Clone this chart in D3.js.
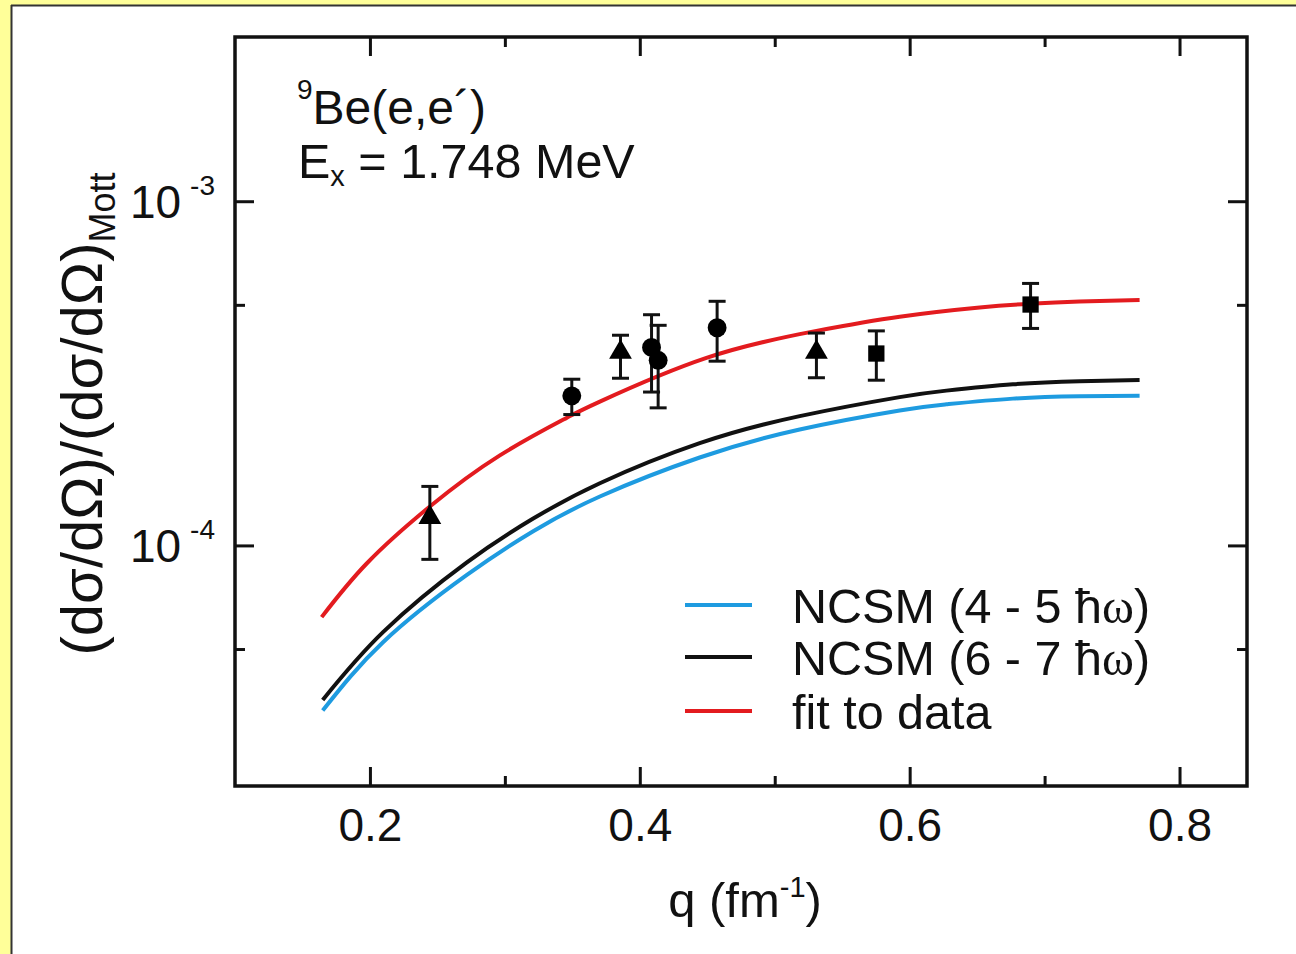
<!DOCTYPE html>
<html>
<head>
<meta charset="utf-8">
<script src="https://cdn.jsdelivr.net/npm/d3@7"></script>
<style>
  html, body { margin: 0; padding: 0; background: #ffffff; overflow: hidden; }
  svg { display: block; }
  text { font-family: "Liberation Sans", Arial, sans-serif; fill: #111; }
</style>
</head>
<body>
<svg id="chart" width="1296" height="954" viewBox="0 0 1296 954"></svg>
<script>
// ---- theory curves: [q (fm^-1), form factor ratio] ----
const ncsm45 = [[0.1650,3.314e-5],[0.2099,5.241e-5],[0.2716,8.193e-5],[0.3210,1.0997e-4],[0.3704,1.3874e-4],[0.4444,1.8006e-4],[0.5185,2.1723e-4],[0.5926,2.4670e-4],[0.6272,2.5698e-4],[0.6765,2.6698e-4],[0.7259,2.7113e-4],[0.7704,2.7222e-4]];
const ncsm67 = [[0.1650,3.558e-5],[0.2099,5.609e-5],[0.2716,8.913e-5],[0.3210,1.1966e-4],[0.3704,1.5160e-4],[0.4444,1.9818e-4],[0.5185,2.3748e-4],[0.5926,2.6968e-4],[0.6272,2.8168e-4],[0.6765,2.9383e-4],[0.7259,2.9979e-4],[0.7704,3.0221e-4]];
const fitCurve = [[0.1642,6.19e-5],[0.1976,8.86e-5],[0.2444,1.297e-4],[0.2963,1.826e-4],[0.3457,2.346e-4],[0.3704,2.617e-4],[0.4494,3.506e-4],[0.5309,4.201e-4],[0.5926,4.618e-4],[0.6519,4.912e-4],[0.6889,5.035e-4],[0.7259,5.110e-4],[0.7704,5.161e-4]];

// ---- measured points (three data sets) ----
const triQ  = [0.2444, 0.3857, 0.5309];
const triV  = [1.206e-4, 3.64e-4, 3.64e-4];
const triLo = [9.11e-5, 3.06e-4, 3.07e-4];
const triHi = [1.484e-4, 4.08e-4, 4.14e-4];

const cirQ  = [0.3496, 0.4087, 0.4136, 0.4573];
const cirV  = [2.72e-4, 3.76e-4, 3.45e-4, 4.29e-4];
const cirLo = [2.40e-4, 2.79e-4, 2.51e-4, 3.43e-4];
const cirHi = [3.04e-4, 4.68e-4, 4.36e-4, 5.12e-4];

const sqQ  = [0.5753, 0.6896];
const sqV  = [3.61e-4, 5.01e-4];
const sqLo = [3.02e-4, 4.27e-4];
const sqHi = [4.20e-4, 5.77e-4];

// ---- ticks ----
const xMajor = [0.2, 0.4, 0.6, 0.8];
const xMinor = [0.3, 0.5, 0.7];
const xTickLabels = ["0.2", "0.4", "0.6", "0.8"];
const yMajor = [1e-4, 1e-3];
const yMinor = [5e-5, 5e-4];
const yTickExp = ["-4", "-3"];

const legendLabels = ["NCSM (4 - 5 ", "NCSM (6 - 7 ", "fit to data"];
const colors = { ncsm45: "#1e9be0", ncsm67: "#111111", fit: "#e31b1f" };

// ---- layout ----
const W = 1296, H = 954;
const plot = { left: 235, right: 1247, top: 37, bottom: 786 };

const svg = d3.select("#chart");

// yellow page margin along top and left, white panel with a dark edge
svg.append("rect").attr("x", 0).attr("y", 0).attr("width", W).attr("height", 5).attr("fill", "#ffff99");
svg.append("rect").attr("x", 0).attr("y", 0).attr("width", 11).attr("height", H).attr("fill", "#ffff99");
svg.append("line").attr("x1", 11).attr("x2", W).attr("y1", 5.5).attr("y2", 5.5).attr("stroke", "#333").attr("stroke-width", 2);
svg.append("line").attr("x1", 11.5).attr("x2", 11.5).attr("y1", 5).attr("y2", H).attr("stroke", "#333").attr("stroke-width", 2);

const x = d3.scaleLinear().domain([0.1, 0.85]).range([plot.left, plot.right]);
const y = d3.scaleLog().domain([2e-5, 3e-3]).range([plot.bottom, plot.top]);

// ---- curves ----
const line = d3.line()
  .x(d => x(d[0]))
  .y(d => y(d[1]))
  .curve(d3.curveNatural);

const curves = svg.append("g").attr("fill", "none").attr("stroke-width", 4);
curves.append("path").datum(ncsm45).attr("d", line).attr("stroke", colors.ncsm45);
curves.append("path").datum(ncsm67).attr("d", line).attr("stroke", colors.ncsm67);
curves.append("path").datum(fitCurve).attr("d", line).attr("stroke", colors.fit);

// ---- data points with error bars ----
function drawSet(qs, vs, lo, hi, symbolType, size) {
  const g = svg.append("g");
  const pts = qs.map((q, i) => ({ q, v: vs[i], lo: lo[i], hi: hi[i] }));
  const cap = 8.5;
  pts.forEach(p => {
    const cx = x(p.q);
    g.append("line").attr("x1", cx).attr("x2", cx).attr("y1", y(p.lo)).attr("y2", y(p.hi))
      .attr("stroke", "#111").attr("stroke-width", 3);
    [p.lo, p.hi].forEach(e => {
      g.append("line").attr("x1", cx - cap).attr("x2", cx + cap).attr("y1", y(e)).attr("y2", y(e))
        .attr("stroke", "#111").attr("stroke-width", 3);
    });
  });
  g.selectAll("path.sym").data(pts).join("path")
    .attr("class", "sym")
    .attr("transform", d => `translate(${x(d.q)},${y(d.v)})`)
    .attr("d", d3.symbol().type(symbolType).size(size))
    .attr("fill", "#000");
}
drawSet(triQ, triV, triLo, triHi, d3.symbolTriangle, 225);
drawSet(cirQ, cirV, cirLo, cirHi, d3.symbolCircle, 280);
drawSet(sqQ, sqV, sqLo, sqHi, d3.symbolSquare, 265);

// ---- axes: inward ticks on all four sides ----
const majorLen = 19, minorLen = 10;
function styleAxis(g) {
  g.select(".domain").remove();
  g.selectAll(".tick line").attr("stroke", "#111").attr("stroke-width", 3);
}
svg.append("g").attr("transform", `translate(0,${plot.bottom})`)
  .call(d3.axisBottom(x).tickValues(xMajor).tickSizeInner(-majorLen).tickSizeOuter(0)
    .tickPadding(22).tickFormat((d, i) => xTickLabels[i]))
  .call(styleAxis)
  .call(g => g.selectAll("text").attr("font-size", 46).attr("fill", "#111")
    .attr("font-family", '"Liberation Sans", Arial, sans-serif'));
svg.append("g").attr("transform", `translate(0,${plot.bottom})`)
  .call(d3.axisBottom(x).tickValues(xMinor).tickSizeInner(-minorLen).tickSizeOuter(0).tickFormat(""))
  .call(styleAxis);
svg.append("g").attr("transform", `translate(0,${plot.top})`)
  .call(d3.axisTop(x).tickValues(xMajor).tickSizeInner(-majorLen).tickSizeOuter(0).tickFormat(""))
  .call(styleAxis);
svg.append("g").attr("transform", `translate(0,${plot.top})`)
  .call(d3.axisTop(x).tickValues(xMinor).tickSizeInner(-minorLen).tickSizeOuter(0).tickFormat(""))
  .call(styleAxis);
svg.append("g").attr("transform", `translate(${plot.left},0)`)
  .call(d3.axisLeft(y).tickValues(yMajor).tickSizeInner(-majorLen).tickSizeOuter(0).tickFormat(""))
  .call(styleAxis);
svg.append("g").attr("transform", `translate(${plot.left},0)`)
  .call(d3.axisLeft(y).tickValues(yMinor).tickSizeInner(-minorLen).tickSizeOuter(0).tickFormat(""))
  .call(styleAxis);
svg.append("g").attr("transform", `translate(${plot.right},0)`)
  .call(d3.axisRight(y).tickValues(yMajor).tickSizeInner(-majorLen).tickSizeOuter(0).tickFormat(""))
  .call(styleAxis);
svg.append("g").attr("transform", `translate(${plot.right},0)`)
  .call(d3.axisRight(y).tickValues(yMinor).tickSizeInner(-minorLen).tickSizeOuter(0).tickFormat(""))
  .call(styleAxis);

// frame
svg.append("rect")
  .attr("x", plot.left).attr("y", plot.top)
  .attr("width", plot.right - plot.left).attr("height", plot.bottom - plot.top)
  .attr("fill", "none").attr("stroke", "#111").attr("stroke-width", 3.5);

// y tick labels: 10^n
yMajor.forEach((v, i) => {
  const t = svg.append("text").attr("x", 215).attr("y", y(v) + 17)
    .attr("text-anchor", "end").attr("font-size", 46);
  t.append("tspan").text("10");
  t.append("tspan").attr("dx", 9).attr("dy", -23).attr("font-size", 28).text(yTickExp[i]);
});

// x axis title
const xt = svg.append("text").attr("x", 745).attr("y", 917).attr("text-anchor", "middle").attr("font-size", 49);
xt.append("tspan").text("q (fm");
xt.append("tspan").attr("dy", -20).attr("font-size", 29).text("-1");
xt.append("tspan").attr("dy", 20).text(")");

// y axis title
const yt = svg.append("text")
  .attr("transform", "translate(102,414) rotate(-90)")
  .attr("text-anchor", "middle").attr("font-size", 58);
yt.append("tspan").text("(dσ/dΩ)/(dσ/dΩ)");
yt.append("tspan").attr("dy", 13).attr("font-size", 36).text("Mott");

// reaction annotation
const a1 = svg.append("text").attr("x", 297).attr("y", 124).attr("font-size", 48);
a1.append("tspan").attr("font-size", 28).attr("dy", -25).text("9");
a1.append("tspan").attr("dy", 25).text("Be(e,e´)");
const a2 = svg.append("text").attr("x", 298).attr("y", 178).attr("font-size", 48.5);
a2.append("tspan").text("E");
a2.append("tspan").attr("font-size", 29).attr("dy", 8).text("x");
a2.append("tspan").attr("dy", -8).text(" = 1.748 MeV");

// legend
const legColors = [colors.ncsm45, colors.ncsm67, colors.fit];
const legY = [605, 657, 711];
legendLabels.forEach((lab, i) => {
  svg.append("line").attr("x1", 685).attr("x2", 752).attr("y1", legY[i]).attr("y2", legY[i])
    .attr("stroke", legColors[i]).attr("stroke-width", 4);
  const t = svg.append("text").attr("x", 792).attr("y", legY[i] + 18).attr("font-size", 48.5);
  t.append("tspan").text(lab);
  if (i < 2) {
    t.append("tspan").text("ħ");
    t.append("tspan").attr("font-family", '"Liberation Serif", "Times New Roman", serif').text("ω");
    t.append("tspan").text(")");
  }
});
</script>
</body>
</html>
